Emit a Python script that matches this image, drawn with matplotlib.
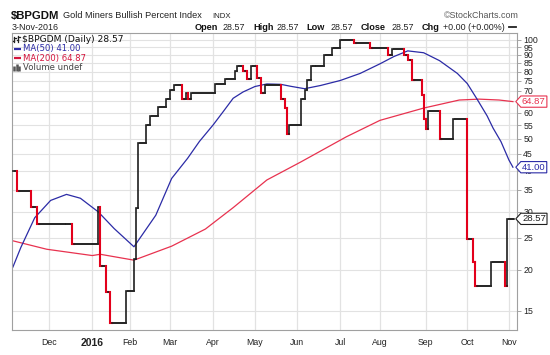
import numpy as np
import pandas as pd
import matplotlib
matplotlib.use('Agg')
import matplotlib.pyplot as plt
from matplotlib.collections import LineCollection
from matplotlib.path import Path
from matplotlib.ticker import NullLocator, NullFormatter

plt.rcParams['font.family'] = ['Liberation Sans', 'DejaVu Sans']

# NYSE holidays inside the window, so x runs in trading days like StockCharts
holidays = ['2015-11-26', '2015-12-25', '2016-01-01', '2016-01-18', '2016-02-15',
            '2016-03-25', '2016-05-30', '2016-07-04', '2016-09-05']
days = pd.bdate_range('2015-11-04', '2016-11-03', freq='C', holidays=holidays)

# $BPGDM closes, only the days where the index changed
change_dates = ['2015-11-04', '2015-11-06', '2015-11-17', '2015-11-20', '2015-12-17',
                '2016-01-07', '2016-01-08', '2016-01-13', '2016-01-15', '2016-01-28',
                '2016-02-03', '2016-02-04', '2016-02-05', '2016-02-11', '2016-02-16',
                '2016-02-22', '2016-02-26', '2016-03-01', '2016-03-03', '2016-03-09',
                '2016-03-11', '2016-03-14', '2016-03-16', '2016-04-04', '2016-04-11',
                '2016-04-18', '2016-04-19', '2016-04-22', '2016-04-26', '2016-04-28',
                '2016-05-03', '2016-05-05', '2016-05-09', '2016-05-19', '2016-05-23',
                '2016-05-24', '2016-05-25', '2016-06-03', '2016-06-07', '2016-06-08',
                '2016-06-10', '2016-06-21', '2016-06-27', '2016-07-01', '2016-07-13',
                '2016-07-25', '2016-08-05', '2016-08-09', '2016-08-17', '2016-08-19',
                '2016-08-23', '2016-08-30', '2016-08-31', '2016-09-01', '2016-09-02',
                '2016-09-13', '2016-09-22', '2016-10-03', '2016-10-06', '2016-10-07',
                '2016-10-19', '2016-10-28', '2016-10-31']
change_values = [40.0, 34.6, 31.0, 27.6, 24.0,
                 31.0, 20.6, 17.1, 13.8, 17.2,
                 21.5, 30.9, 48.6, 55.2, 58.8,
                 62.3, 66.2, 70.5, 72.7, 66.2,
                 68.7, 66.2, 68.7, 73.4, 76.2,
                 80.2, 83.1, 80.2, 76.2, 83.1,
                 76.5, 69.0, 73.0, 66.2, 62.0,
                 51.8, 55.2, 66.1, 70.5, 75.2,
                 83.2, 89.8, 94.2, 100.0, 97.6,
                 94.2, 89.8, 93.4, 89.8, 86.5,
                 75.2, 68.0, 57.4, 53.5, 60.6,
                 50.0, 57.4, 24.9, 21.2, 17.8,
                 21.2, 17.8, 28.57]

ma50_dates = ['2015-11-04', '2015-11-10', '2015-11-19', '2015-12-02', '2015-12-14',
              '2015-12-23', '2016-01-07', '2016-01-20', '2016-02-03', '2016-02-19',
              '2016-03-02', '2016-03-14', '2016-03-22', '2016-04-01', '2016-04-08',
              '2016-04-15', '2016-04-22', '2016-05-02', '2016-05-10', '2016-05-19',
              '2016-05-26', '2016-06-07', '2016-06-17', '2016-07-01', '2016-07-18',
              '2016-08-01', '2016-08-10', '2016-08-19', '2016-08-31', '2016-09-13',
              '2016-09-26', '2016-10-03', '2016-10-10', '2016-10-17', '2016-10-20',
              '2016-10-26', '2016-11-01', '2016-11-03']
ma50_values = [20.4, 23.4, 28.8, 32.5, 33.9,
               33.0, 30.0, 26.7, 23.5, 29.3,
               37.9, 43.6, 49.1, 55.2, 60.5,
               66.4, 69.4, 72.1, 73.4, 73.2,
               72.2, 71.0, 72.6, 75.2, 79.0,
               84.5, 88.9, 92.5, 91.3, 86.4,
               79.0, 73.6, 65.9, 58.7, 53.9,
               49.0, 43.1, 41.0]

ma200_dates = ['2015-11-04', '2015-11-30', '2016-01-04', '2016-01-08', '2016-02-03',
               '2016-03-02', '2016-03-28', '2016-04-15', '2016-05-10', '2016-06-03',
               '2016-07-07', '2016-08-01', '2016-08-31', '2016-09-27', '2016-10-11',
               '2016-10-25', '2016-11-03']
ma200_values = [24.5, 23.1, 22.1, 22.3, 21.4,
                23.6, 26.6, 30.9, 37.5, 42.5,
                50.7, 56.9, 62.0, 65.6, 66.0,
                65.6, 64.87]

month_starts = ['2015-12-01', '2016-01-04', '2016-02-01', '2016-03-01', '2016-04-01',
                '2016-05-02', '2016-06-01', '2016-07-01', '2016-08-01', '2016-09-01',
                '2016-10-03', '2016-11-01']
month_labels = ['Dec', '2016', 'Feb', 'Mar', 'Apr', 'May', 'Jun', 'Jul', 'Aug', 'Sep',
                'Oct', 'Nov']
ytick_values = [15, 20, 25, 30, 35, 40, 45, 50, 55, 60, 65, 70, 75, 80, 85, 90, 95, 100]
ytick_labels = ['15', '20', '25', '30', '35', '40', '45', '50', '55', '60', '', '70',
                '75', '80', '85', '90', '95', '100']

last_close = 28.57
ma50_last = 41.00
ma200_last = 64.87

BLACK = '#1e1e1e'
RED = '#e3001b'
BLUE = '#2b2ba6'
PINK = '#e8324f'
W, H = 550, 355
L, R, T, B = 11.7, 517.0, 33.3, 330.0


def fx(px):
    return px / W


def fy(py):
    return 1 - py / H


def ax_xy(px, py):
    return (px - L) / (R - L), (B - py) / (B - T)


def tag_box(x0, y0, width, height, mutation_size):
    pad = mutation_size * 0.12
    x0 -= pad
    y0 -= pad
    width += 2 * pad
    height += 2 * pad
    tip = height * 0.45
    verts = [(x0, y0), (x0 + width, y0), (x0 + width, y0 + height), (x0, y0 + height),
             (x0 - tip, y0 + height / 2), (x0, y0)]
    return Path(verts, closed=True)


close = pd.Series(change_values, index=pd.to_datetime(change_dates)).reindex(days).ffill()
vals = close.values
x = np.arange(len(days))

fig = plt.figure(figsize=(W / 100, H / 100), dpi=100)
ax = fig.add_axes([fx(L), 1 - B / H, (R - L) / W, (B - T) / H])
ax.set_yscale('log')
ax.set_ylim(13.13, 104.6)
ax.set_xlim(-0.62, 254.06)

for v in ytick_values:
    ax.axhline(v, color='#e2e2e2', lw=0.8, zorder=0)
month_idx = days.get_indexer(pd.to_datetime(month_starts))
for m in month_idx:
    ax.axvline(m, color='#e2e2e2', lw=0.9, zorder=0)

# moving averages
ma200_idx = days.get_indexer(pd.to_datetime(ma200_dates))
ax.plot(ma200_idx, ma200_values, color=PINK, lw=0.9, zorder=2)
ma50_idx = days.get_indexer(pd.to_datetime(ma50_dates))
ax.plot(ma50_idx, ma50_values, color=BLUE, lw=0.9, zorder=2)

# daily bars as steps: red when the close fell
segs, cols, lws = [], [], []
n = len(x)
segs.append([(x[0], vals[0]), (x[1], vals[0])])
cols.append(BLACK)
lws.append(1.2)
for i in range(1, n):
    end = x[i] + 1 if i < n - 1 else x[i] + 0.4
    segs.append([(x[i], vals[i - 1]), (x[i], vals[i]), (end, vals[i])])
    down = vals[i] < vals[i - 1]
    cols.append(RED if down else BLACK)
    lws.append(1.5 if down else 1.2)
lc = LineCollection(segs, colors=cols, linewidths=lws, capstyle='projecting',
                    joinstyle='miter', zorder=3)
ax.add_collection(lc)

ax.yaxis.tick_right()
ax.set_yticks(ytick_values)
ax.set_yticklabels(ytick_labels)
ax.yaxis.set_minor_locator(NullLocator())
ax.yaxis.set_minor_formatter(NullFormatter())
ax.tick_params(axis='y', length=3, width=0.6, color='#999999', pad=1.5,
               labelsize=6.3, labelcolor='#222222')
ax.set_xticks(month_idx)
ax.set_xticklabels(month_labels)
ax.tick_params(axis='x', length=0, pad=6, labelsize=6.3, labelcolor='#222222')
ax.get_xticklabels()[1].set_fontweight('bold')
ax.get_xticklabels()[1].set_fontsize(7.5)
for s in ax.spines.values():
    s.set_color('#a0a0a0')
    s.set_linewidth(0.8)

# value tags on the right scale
for val, col, txt in [(ma200_last, PINK, '64.87'), (ma50_last, BLUE, '41.00'),
                      (last_close, BLACK, '28.57')]:
    ax.text(1 + 5 / (R - L), val, txt, transform=ax.get_yaxis_transform(),
            ha='left', va='center', fontsize=6.8, color=col, clip_on=False, zorder=6,
            bbox=dict(boxstyle=tag_box, fc='white', ec=col, lw=0.8))

# legend block inside the plot
leg = [('$BPGDM (Daily) 28.57', '#111111', 39.2, 6.6),
       ('MA(50) 41.00', BLUE, 48.5, 6.1),
       ('MA(200) 64.87', '#d4143c', 58.0, 6.1),
       ('Volume undef', '#444444', 67.5, 6.1)]
for txt, col, py, fs in leg:
    px = 21.5 if txt.startswith('$') else 23.0
    ax.text(*ax_xy(px, py), txt, transform=ax.transAxes, ha='left', va='center',
            fontsize=fs, color=col, family='DejaVu Sans', zorder=7)
for col, py in [(BLUE, 48.5), ('#d4143c', 58.0)]:
    p0 = ax_xy(13.5, py)
    p1 = ax_xy(21.0, py)
    ax.plot([p0[0], p1[0]], [p0[1], p1[1]], transform=ax.transAxes, color=col,
            lw=1.6, solid_capstyle='butt', zorder=7)
icon = [((14.2, 42.0), (14.2, 36.5)), ((12.8, 40.5), (14.2, 40.5)), ((14.2, 38.0), (15.6, 38.0)),
        ((18.2, 41.5), (18.2, 36.0)), ((16.8, 39.5), (18.2, 39.5)), ((18.2, 37.0), (19.6, 37.0))]
for a, b in icon:
    p0, p1 = ax_xy(*a), ax_xy(*b)
    ax.plot([p0[0], p1[0]], [p0[1], p1[1]], transform=ax.transAxes, color='#222222',
            lw=0.9, zorder=7)
for bx, top in [(14.0, 65.5), (16.6, 63.5), (19.2, 66.0)]:
    p0, p1 = ax_xy(bx, 70.5), ax_xy(bx, top)
    ax.plot([p0[0], p1[0]], [p0[1], p1[1]], transform=ax.transAxes, color='#555555',
            lw=1.8, solid_capstyle='butt', zorder=7)

# header
fig.text(fx(11), fy(18.5), '$BPGDM', fontsize=8.2, fontweight='bold', color='#111111',
         va='baseline')
fig.text(fx(63), fy(18.5), 'Gold Miners Bullish Percent Index', fontsize=6.6,
         color='#222222', va='baseline')
fig.text(fx(212), fy(18.5), 'INDX', fontsize=5.6, color='#222222', va='baseline')
fig.text(fx(518.5), fy(17.5), '\u00a9StockCharts.com', fontsize=6.4, color='#555555',
         ha='right', va='baseline')
fig.text(fx(11.5), fy(29.5), '3-Nov-2016', fontsize=6.4, color='#222222', va='baseline')

head_labels = ['Open', 'High', 'Low', 'Close', 'Chg']
head_values = ['28.57', '28.57', '28.57', '28.57', '+0.00 (+0.00%)']
label_x = [195, 253, 306.7, 361, 421.7]
value_x = [223, 276.7, 331, 391.7, 442.7]
for lab, val, lx, vx in zip(head_labels, head_values, label_x, value_x):
    fig.text(fx(lx), fy(29.5), lab, fontsize=6.6, fontweight='bold', color='#111111',
             va='baseline')
    fig.text(fx(vx), fy(29.5), val, fontsize=6.4, color='#222222', va='baseline')
fig.add_artist(plt.Line2D([fx(509), fx(516)], [fy(27), fy(27)], color='#222222', lw=1.3))

fig.savefig('out.png', dpi=100, facecolor='white')
